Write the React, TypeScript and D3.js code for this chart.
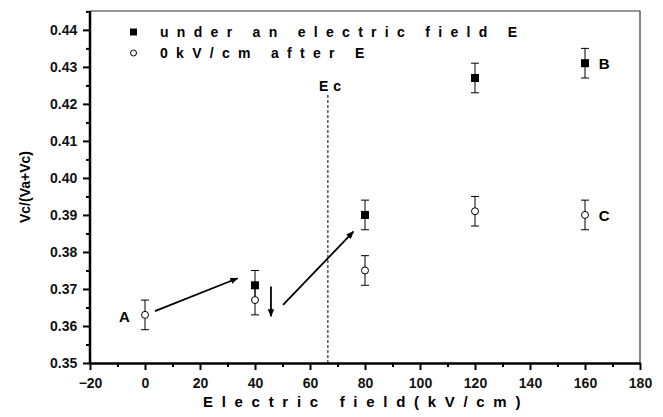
import React, { useEffect, useRef } from "react";
import * as d3 from "d3";

// field values (kV/cm)
const fieldUnder = [40, 80, 120, 160];
const ratioUnder = [0.371, 0.39, 0.427, 0.431];
const errUnder = [0.004, 0.004, 0.004, 0.004];

const fieldAfter = [0, 40, 80, 120, 160];
const ratioAfter = [0.363, 0.367, 0.375, 0.391, 0.39];
const errAfter = [0.004, 0.004, 0.004, 0.004, 0.004];

const xTicks = [-20, 0, 20, 40, 60, 80, 100, 120, 140, 160, 180];
const yTicks = [0.35, 0.36, 0.37, 0.38, 0.39, 0.4, 0.41, 0.42, 0.43, 0.44];

const ecField = 66.5;

// arrows: [x1, y1, x2, y2] in data units
const arrows = [
  [3.6, 0.364, 33.7, 0.3729],
  [45.8, 0.3707, 45.8, 0.3626],
  [50.2, 0.3657, 75.8, 0.3855],
];

const pointLabels = [
  { text: "A", x: -7.5, y: 0.3625 },
  { text: "B", x: 167, y: 0.4308 },
  { text: "C", x: 167, y: 0.3897 },
];

const legendItems = ["under an electric field E", "0kV/cm after E"];

const W = 663, H = 417;
const margin = { top: 11, right: 23, bottom: 54, left: 90 };
const font = "Arial, 'Liberation Sans', Helvetica, sans-serif";

export default function App() {
  const svgRef = useRef<SVGSVGElement>(null);

  useEffect(() => {
    const svg = d3.select(svgRef.current);
    svg.selectAll("*").remove();

    const x = d3.scaleLinear().domain([-20, 180]).range([margin.left, W - margin.right]);
    const y = d3.scaleLinear().domain([0.35, 0.4451]).range([H - margin.bottom, margin.top]);

    svg.append("defs").append("marker")
      .attr("id", "head")
      .attr("viewBox", "0 0 10 10")
      .attr("refX", 9).attr("refY", 5)
      .attr("markerWidth", 8).attr("markerHeight", 8)
      .attr("markerUnits", "userSpaceOnUse")
      .attr("orient", "auto")
      .append("path").attr("d", "M0,1 L10,5 L0,9 Z").attr("fill", "#000");

    // frame top/right
    svg.append("path")
      .attr("d", `M${x(-20)},${y.range()[1]} H${x(180)} V${y.range()[0]}`)
      .attr("fill", "none").attr("stroke", "#333").attr("stroke-width", 1.2);

    // minor ticks
    const gx = svg.append("g").attr("transform", `translate(0,${H - margin.bottom})`);
    gx.call(d3.axisBottom(x).tickValues(d3.range(-10, 180, 20)).tickSize(4).tickFormat(() => ""));
    gx.call(g => g.select(".domain").remove());
    const gy = svg.append("g").attr("transform", `translate(${margin.left},0)`);
    gy.call(d3.axisLeft(y).tickValues(d3.range(0.355, 0.445, 0.01)).tickSize(4).tickFormat(() => ""));
    gy.call(g => g.select(".domain").remove());
    svg.selectAll("g line").attr("stroke-width", 2);

    const xAxis = svg.append("g")
      .attr("transform", `translate(0,${H - margin.bottom})`)
      .call(d3.axisBottom(x).tickValues(xTicks).tickSize(7).tickSizeOuter(0).tickFormat(d3.format("d")));
    const yAxis = svg.append("g")
      .attr("transform", `translate(${margin.left},0)`)
      .call(d3.axisLeft(y).tickValues(yTicks).tickSize(7).tickSizeOuter(0).tickFormat(d3.format(".2f")));
    [xAxis, yAxis].forEach(a => {
      a.select(".domain").attr("stroke-width", 2.5);
      a.selectAll("line").attr("stroke-width", 2);
      a.selectAll("text").attr("font-family", font).attr("font-size", 14)
        .attr("font-weight", "bold").attr("fill", "#111");
    });
    yAxis.select(".domain").attr("d", `M0,${y.range()[0]}V${y.range()[1]}`);
    xAxis.selectAll("text").attr("dy", "1.05em");
    yAxis.selectAll("text").attr("dx", "-0.2em");

    // Ec line
    svg.append("line")
      .attr("x1", x(ecField)).attr("x2", x(ecField))
      .attr("y1", y(0.4224)).attr("y2", y(0.35))
      .attr("stroke", "#000").attr("stroke-width", 1).attr("stroke-dasharray", "3,2");
    svg.append("text").attr("x", x(ecField) - 9).attr("y", y(0.4235))
      .attr("font-family", font).attr("font-size", 14).attr("font-weight", "bold")
      .attr("letter-spacing", 5).text("Ec");

    const drawErr = (xs: number[], ys: number[], es: number[]) => {
      const g = svg.append("g").attr("stroke", "#000").attr("stroke-width", 1);
      xs.forEach((v, i) => {
        const cx = x(v);
        g.append("line").attr("x1", cx).attr("x2", cx).attr("y1", y(ys[i] - es[i])).attr("y2", y(ys[i] + es[i]));
        [ys[i] - es[i], ys[i] + es[i]].forEach(e =>
          g.append("line").attr("x1", cx - 4).attr("x2", cx + 4).attr("y1", y(e)).attr("y2", y(e)));
      });
    };
    drawErr(fieldUnder, ratioUnder, errUnder);
    drawErr(fieldAfter, ratioAfter, errAfter);

    svg.append("g").selectAll("circle").data(fieldAfter).join("circle")
      .attr("cx", d => x(d)).attr("cy", (d, i) => y(ratioAfter[i])).attr("r", 3.5)
      .attr("fill", "#fff").attr("stroke", "#000").attr("stroke-width", 1);
    svg.append("g").selectAll("rect").data(fieldUnder).join("rect")
      .attr("x", d => x(d) - 4).attr("y", (d, i) => y(ratioUnder[i]) - 4)
      .attr("width", 8).attr("height", 8).attr("fill", "#000");

    svg.append("g").selectAll("line").data(arrows).join("line")
      .attr("x1", d => x(d[0])).attr("y1", d => y(d[1]))
      .attr("x2", d => x(d[2])).attr("y2", d => y(d[3]))
      .attr("stroke", "#000").attr("stroke-width", 1.8).attr("marker-end", "url(#head)");

    svg.append("g").selectAll("text").data(pointLabels).join("text")
      .attr("x", d => x(d.x)).attr("y", d => y(d.y)).attr("dy", "0.35em")
      .attr("text-anchor", "middle").attr("font-family", font)
      .attr("font-size", 15).attr("font-weight", "bold").text(d => d.text);

    // legend
    const lg = svg.append("g");
    legendItems.forEach((t, i) => {
      const ly = 32 + i * 21;
      if (i === 0) lg.append("rect").attr("x", 130).attr("y", ly - 3.5).attr("width", 7).attr("height", 7).attr("fill", "#000");
      else lg.append("circle").attr("cx", 133.5).attr("cy", ly).attr("r", 3).attr("fill", "#fff").attr("stroke", "#000");
      lg.append("text").attr("x", 160).attr("y", ly).attr("dy", "0.36em")
        .attr("font-family", font).attr("font-size", 14).attr("font-weight", "bold")
        .attr("letter-spacing", 8.3).text(t);
    });

    svg.append("text")
      .attr("x", 203).attr("y", 407)
      .attr("font-family", font).attr("font-size", 15)
      .attr("font-weight", "bold").attr("letter-spacing", 8.7)
      .text("Electric field(kV/cm)");

    svg.append("text")
      .attr("transform", `translate(30,${(margin.top + H - margin.bottom) / 2}) rotate(-90)`)
      .attr("text-anchor", "middle").attr("font-family", font).attr("font-size", 14)
      .attr("font-weight", "bold").text("Vc/(Va+Vc)");
  }, []);

  return (
    <svg ref={svgRef} width={W} height={H}
      style={{ position: "absolute", left: 0, top: 0, background: "#fff" }} />
  );
}
